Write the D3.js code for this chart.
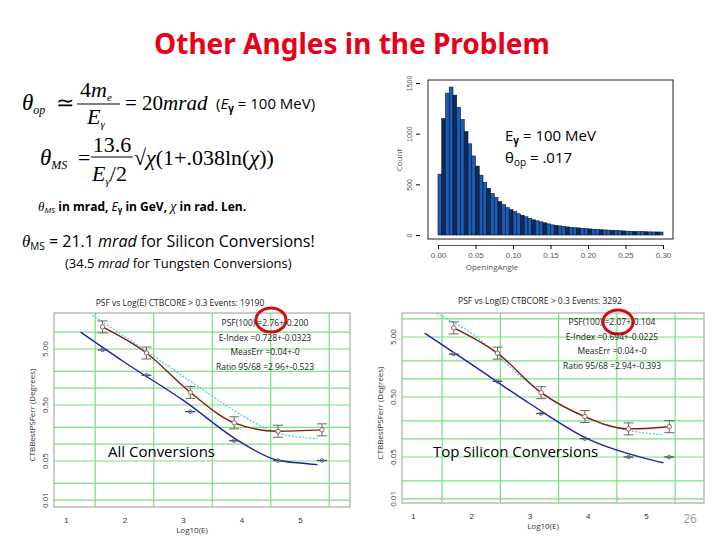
<!DOCTYPE html>
<html><head><meta charset="utf-8">
<script src="https://cdn.jsdelivr.net/npm/d3@7"></script>
<style>body{margin:0;background:#fff}svg{display:block}</style>
</head><body><svg id="c" width="720" height="540"></svg>
<script>
// ---- Data ----
const histBinWidth = 0.005;
const histCounts = [600,1150,1400,1460,1380,1260,1140,1020,900,780,680,590,520,460,410,370,330,300,270,250,230,210,195,180,165,150,140,130,120,110,100,95,90,85,80,75,72,70,66,62,60,57,55,52,50,48,46,44,42,40,38,36,35,34,33,32,31,30,30,29];
const histXTicks = [0,0.05,0.10,0.15,0.20,0.25,0.30];
const histYTicks = [0,500,1000,1500];

const psfYTicks = [5,0.5,0.05,0.01];
const psfYLabels = ["5.00","0.50","0.05","0.01"];
const psfXTicks = [1,2,3,4,5];

const allRedX = [1.625,2.375,3.125,3.875,4.625,5.375];
const allRed = [12.4,4.24,0.84,0.24,0.17,0.18];
const allBlueX = [1.625,2.375,3.125,3.875,4.625,5.375];
const allBlue = [4.8,1.7,0.38,0.115,0.051,0.051];
const allBlueCurveX = [1.25,2,3,4,4.6,5,5.3];
const allBlueCurve = [10,2.9,0.61,0.106,0.052,0.046,0.043];
const allCyanX = [1.45,2.4,3.3,4.0,4.6,5.3];
const allCyan = [20,4.4,1.0,0.33,0.16,0.125];
const allStats = ["PSF(100) =2.76+-0.200","E-Index =0.728+-0.0323","MeasErr =0.04+-0","Ratio 95/68 =2.96+-0.523"];

const topRedX = [1.7,2.45,3.2,3.95,4.7,5.4];
const topRed = [7.1,2.69,0.59,0.236,0.147,0.16];
const topBlueX = [1.7,2.45,3.2,3.95,4.7,5.4];
const topBlue = [2.59,0.91,0.265,0.101,0.05,0.05];
const topBlueCurveX = [1.2,2,3,4,5,5.3];
const topBlueCurve = [5.8,1.76,0.39,0.1,0.047,0.04];
const topCyanX = [1.35,2,3,4,5,5.3];
const topCyan = [13.1,5.8,0.84,0.22,0.125,0.118];
const topStats = ["PSF(100) =2.07+-0.104","E-Index =0.694+-0.0225","MeasErr =0.04+-0","Ratio 95/68 =2.94+-0.393"];

const svg = d3.select("#c");
const serif = "Liberation Serif, serif";
const sans = "Open Sans, Liberation Sans, sans-serif";

// Title
svg.append("text").attr("x",352).attr("y",54).attr("text-anchor","middle")
 .attr("font-family","Noto Sans, Open Sans, sans-serif").attr("font-weight","bold")
 .attr("font-size",28).attr("fill","#e8001a").text("Other Angles in the Problem");

function t(x,y,size,fam,str,opts={}){
  const e=svg.append("text").attr("x",x).attr("y",y).attr("font-size",size).attr("font-family",fam);
  if(str) e.text(str);
  if(opts.italic) e.attr("font-style","italic");
  if(opts.weight) e.attr("font-weight",opts.weight);
  if(opts.anchor) e.attr("text-anchor",opts.anchor);
  if(opts.fill) e.attr("fill",opts.fill);
  return e;
}
// ---- Formulas ----
let e=t(22,110,23,serif,"",{italic:1}); e.append("tspan").text("θ"); e.append("tspan").attr("font-size",12).attr("dy",4).text("op");
t(56,110,22,serif,"≃");
e=t(80,97,22,serif,""); e.append("tspan").text("4"); e.append("tspan").attr("font-style","italic").text("m"); e.append("tspan").attr("font-size",11).attr("dy",4).attr("font-style","italic").text("e");
svg.append("line").attr("x1",77).attr("x2",120).attr("y1",104).attr("y2",104).attr("stroke","#000").attr("stroke-width",1.2);
e=t(87,124,22,serif,"",{italic:1}); e.append("tspan").text("E"); e.append("tspan").attr("font-size",11).attr("dy",4).text("γ");
e=t(125,110,21,serif,""); e.append("tspan").text("= 20"); e.append("tspan").attr("font-style","italic").text("mrad");
e=t(216,109,15,sans,""); e.append("tspan").text("("); e.append("tspan").attr("font-style","italic").text("E");
e.append("tspan").attr("font-size",10).attr("dy",3).attr("font-weight","bold").text("γ"); e.append("tspan").attr("dy",-3).text(" = 100 MeV)");

e=t(40,165,23,serif,"",{italic:1}); e.append("tspan").text("θ"); e.append("tspan").attr("font-size",12).attr("dy",4).text("MS");
t(78,165,22,serif,"=");
t(112,152,22,serif,"13.6",{anchor:"middle"});
svg.append("line").attr("x1",91).attr("x2",133).attr("y1",157).attr("y2",157).attr("stroke","#000").attr("stroke-width",1.2);
e=t(92,181,22,serif,""); e.append("tspan").attr("font-style","italic").text("E"); e.append("tspan").attr("font-size",11).attr("dy",4).attr("font-style","italic").text("γ"); e.append("tspan").attr("dy",-4).text("/2");
e=t(134,165,22,serif,""); e.append("tspan").text("√"); e.append("tspan").attr("font-style","italic").text("χ"); e.append("tspan").text("(1+.038ln("); e.append("tspan").attr("font-style","italic").text("χ"); e.append("tspan").text("))");

e=t(38,211,12,sans,"",{weight:"bold"}); e.append("tspan").attr("font-style","italic").attr("font-weight","normal").attr("font-family",serif).attr("font-size",13).text("θ");
e.append("tspan").attr("font-size",8).attr("dy",2).attr("font-style","italic").attr("font-weight","normal").text("MS"); e.append("tspan").attr("dy",-2).text(" in mrad, ");
e.append("tspan").attr("font-style","italic").attr("font-weight","normal").text("E"); e.append("tspan").attr("font-size",8).attr("dy",2).text("γ");
e.append("tspan").attr("dy",-2).text(" in GeV, "); e.append("tspan").attr("font-style","italic").attr("font-family",serif).attr("font-size",14).attr("font-weight","normal").text("χ"); e.append("tspan").text(" in rad. Len.");

e=t(22,247,16,sans,""); e.append("tspan").attr("font-style","italic").attr("font-family",serif).attr("font-size",17).text("θ");
e.append("tspan").attr("font-size",10).attr("dy",3).text("MS"); e.append("tspan").attr("dy",-3).text(" = 21.1 ");
e.append("tspan").attr("font-style","italic").text("mrad"); e.append("tspan").text(" for Silicon Conversions!");
e=t(65,268,13,sans,""); e.append("tspan").text("(34.5 "); e.append("tspan").attr("font-style","italic").text("mrad"); e.append("tspan").text(" for Tungsten Conversions)");

// ---- Histogram ----
{
 const x=d3.scaleLinear().domain([0,0.30]).range([438,663]);
 const y=d3.scaleLinear().domain([0,1500]).range([235,83]);
 const g=svg.append("g");
 g.append("rect").attr("x",428).attr("y",80).attr("width",245).attr("height",159).attr("fill","none").attr("stroke","#222").attr("stroke-width",1);
 g.selectAll(".b").data(histCounts).join("rect")
  .attr("x",(d,i)=>x(i*histBinWidth)).attr("width",x(histBinWidth)-x(0))
  .attr("y",d=>y(d)).attr("height",d=>y(0)-y(d))
  .attr("fill",(d,i)=>i%3==1?"#0f2a5a":"#1a5cb8").attr("stroke","#0a1428").attr("stroke-width",0.6);
 const ax=g.append("g").attr("transform","translate(0,245)").call(d3.axisBottom(x).tickValues(histXTicks).tickFormat(d3.format(".2f")).tickSize(4));
 ax.select(".domain").attr("stroke","#555"); ax.selectAll("text").attr("font-size",8).attr("fill","#555");
 const ay=g.append("g").attr("transform","translate(420,0)").call(d3.axisLeft(y).tickValues(histYTicks).tickFormat(d3.format("d")).tickSize(4));
 ay.select(".domain").remove(); ay.selectAll("text").attr("font-size",7).attr("fill","#555").attr("x",0).attr("dy",0).attr("y",0).attr("text-anchor","middle")
   .attr("transform","translate(-8,0) rotate(-90)");
 t(492,270,8,sans,"OpeningAngle",{anchor:"middle",fill:"#555"});
 t(0,0,8,sans,"Count",{anchor:"middle",fill:"#555"}).attr("transform","translate(402,160) rotate(-90)");
 e=t(505,141,15,sans,""); e.append("tspan").text("E"); e.append("tspan").attr("font-size",10).attr("dy",3).attr("font-weight","bold").text("γ"); e.append("tspan").attr("dy",-3).text(" = 100  MeV");
 e=t(505,163,15,sans,""); e.append("tspan").text("θ"); e.append("tspan").attr("font-size",10).attr("dy",3).text("op"); e.append("tspan").attr("dy",-3).text(" = .017");
}

// ---- PSF plots ----
function psf(cfg){
 const x=d3.scaleLinear().domain(cfg.xd).range(cfg.xr);
 const y=d3.scaleLog().domain(cfg.yd).range(cfg.yr);
 const g=svg.append("g");
 const [L,R]=cfg.frame, T=cfg.top, B=cfg.bot;
 g.append("rect").attr("x",L).attr("y",T).attr("width",R-L).attr("height",B-T).attr("fill","#fff").attr("stroke","#999");
 const clip="clip"+cfg.id;
 svg.append("clipPath").attr("id",clip).append("rect").attr("x",L).attr("y",T).attr("width",R-L).attr("height",B-T);
 const gg=g.append("g").attr("clip-path","url(#"+clip+")");
 [1.5,2.5,3.5,4.5,5.5].forEach(v=>gg.append("line").attr("x1",x(v)).attr("x2",x(v)).attr("y1",T).attr("y2",B).attr("stroke","#7be07b").attr("stroke-width",1.2));
 [10,5,2,1,0.5,0.2,0.1,0.05,0.02,0.01].forEach(v=>gg.append("line").attr("x1",L).attr("x2",R).attr("y1",y(v)).attr("y2",y(v)).attr("stroke","#7be07b").attr("stroke-width",1.2));
 const line=d3.line().x(d=>x(d[0])).y(d=>y(d[1])).curve(d3.curveMonotoneX);
 gg.append("path").attr("d",line(cfg.cyanX.map((v,i)=>[v,cfg.cyan[i]]))).attr("fill","none").attr("stroke","#40d8e0").attr("stroke-width",1.3).attr("stroke-dasharray","2,1.5");
 gg.append("path").attr("d",line(cfg.blueCX.map((v,i)=>[v,cfg.blueC[i]]))).attr("fill","none").attr("stroke","#1a22b0").attr("stroke-width",1.4);
 gg.append("path").attr("d",line(cfg.redX.map((v,i)=>[v,cfg.red[i]]))).attr("fill","none").attr("stroke","#8a1a10").attr("stroke-width",1.4);
 cfg.redX.forEach((v,i)=>{const px=x(v),py=y(cfg.red[i]);
   gg.append("line").attr("x1",px).attr("x2",px).attr("y1",py-6).attr("y2",py+6).attr("stroke","#666");
   [py-6,py+6].forEach(q=>gg.append("line").attr("x1",px-5).attr("x2",px+5).attr("y1",q).attr("y2",q).attr("stroke","#666"));
   gg.append("circle").attr("cx",px).attr("cy",py).attr("r",2.2).attr("fill","#fff").attr("stroke","#a06060");});
 cfg.blueX.forEach((v,i)=>{const px=x(v),py=y(cfg.blue[i]);
   gg.append("line").attr("x1",px-5).attr("x2",px+5).attr("y1",py).attr("y2",py).attr("stroke","#445").attr("stroke-width",1.3);
   gg.append("circle").attr("cx",px).attr("cy",py).attr("r",1.8).attr("fill","none").attr("stroke","#5a6a8a");});
 const ax=g.append("g").attr("transform","translate(0,"+B+")").call(d3.axisBottom(x).tickValues(psfXTicks).tickFormat(d3.format("d")).tickSize(0).tickPadding(10));
 ax.select(".domain").remove(); ax.selectAll("text").attr("font-size",8).attr("fill","#333");
 psfYTicks.forEach((v,i)=>t(0,0,8,sans,psfYLabels[i],{anchor:"middle",fill:"#333"}).attr("transform","translate("+(L-6)+","+y(v)+") rotate(-90)"));
 t((L+R)/2-10,B+26,8,sans,"Log10(E)",{anchor:"middle",fill:"#333"});
 t(0,0,8,sans,"CTBBestPSFerr (Degrees)",{anchor:"middle",fill:"#333"}).attr("transform","translate("+(L-19)+","+((T+B)/2+5)+") rotate(-90)");
 t(cfg.titleX,cfg.titleY,8.5,sans,cfg.title,{anchor:"middle",fill:"#222"});
 cfg.stats.forEach((s,i)=>t(cfg.statX,cfg.statY+i*14.5,8.5,sans,s,{anchor:"middle",fill:"#222"}));
 g.append("ellipse").attr("cx",cfg.circ[0]).attr("cy",cfg.circ[1]).attr("rx",15).attr("ry",12).attr("fill","none").attr("stroke","#d01010").attr("stroke-width",3);
 t(cfg.labX,457,15,sans,cfg.label);
}
psf({id:1,xd:[1,5],xr:[66,300],frame:[54,350],yd:[5,0.5],yr:[349,405],top:313,bot:507,
  cyanX:allCyanX,cyan:allCyan,blueCX:allBlueCurveX,blueC:allBlueCurve,redX:allRedX,red:allRed,blueX:allBlueX,blue:allBlue,
  title:"PSF vs Log(E)  CTBCORE >  0.3  Events: 19190",titleX:180,titleY:306,stats:allStats,statX:265,statY:326,circ:[271,320],labX:108,label:"All Conversions"});
psf({id:2,xd:[1,5],xr:[413,646],frame:[402,704],yd:[5,0.5],yr:[337,397],top:313,bot:503,
  cyanX:topCyanX,cyan:topCyan,blueCX:topBlueCurveX,blueC:topBlueCurve,redX:topRedX,red:topRed,blueX:topBlueX,blue:topBlue,
  title:"PSF vs Log(E)  CTBCORE >  0.3  Events: 3292",titleX:540,titleY:304,stats:topStats,statX:612,statY:325,circ:[618,322],labX:433,label:"Top Silicon Conversions"});
t(690,523,12,sans,"26",{anchor:"middle",fill:"#999"});
</script></body></html>
